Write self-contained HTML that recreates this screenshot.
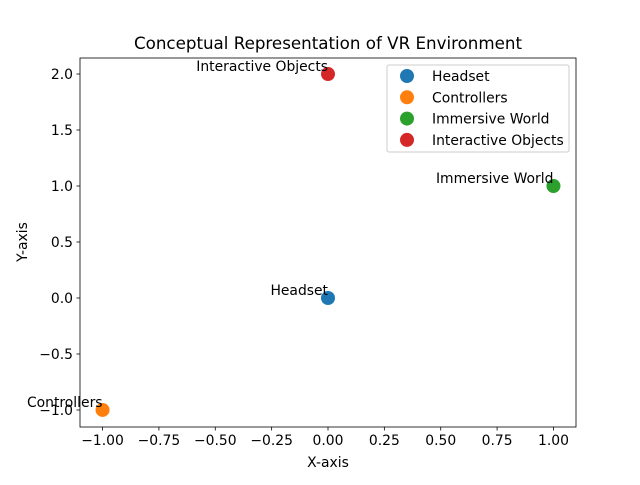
<!DOCTYPE html>
<html><head><meta charset="utf-8"><style>
body{margin:0;background:#fff;}
text{font-family:"DejaVu Sans","Liberation Sans",sans-serif;}
</style></head><body>
<svg id="chart" width="640" height="480" xmlns="http://www.w3.org/2000/svg">
<rect width="640" height="480" fill="#fff"/>
<text x="328" y="49" font-size="16.7" text-anchor="middle">Conceptual Representation of VR Environment</text>
<g id="axes"></g>
<g id="marks"></g>
<rect x="80" y="58" width="496" height="369" fill="none" stroke="#000" stroke-width="0.8"/>
<text x="328" y="467" font-size="13.9" text-anchor="middle">X-axis</text>
<text x="27" y="242" font-size="13.9" text-anchor="middle" transform="rotate(-90 27 242)">Y-axis</text>
<g id="legend"></g>
</svg>
<script>
const names=["Headset","Controllers","Immersive World","Interactive Objects"];
const xs=[0,-1,1,0];
const ys=[0,-1,1,2];
const colors=["#1f77b4","#ff7f0e","#2ca02c","#d62728"];
const xTicks=[-1,-0.75,-0.5,-0.25,0,0.25,0.5,0.75,1];
const yTicks=[-1,-0.5,0,0.5,1,1.5,2];
const xTickLabels=["−1.00","−0.75","−0.50","−0.25","0.00","0.25","0.50","0.75","1.00"];
const yTickLabels=["−1.0","−0.5","0.0","0.5","1.0","1.5","2.0"];
const L=80,R=576,T=58,B=427,x0=-1.1,x1=1.1,y0=-1.152,y1=2.143;
const sx=v=>L+(v-x0)/(x1-x0)*(R-L);
const sy=v=>B-(v-y0)/(y1-y0)*(B-T);
const NS="http://www.w3.org/2000/svg";
function mk(tag,at,parent,txt){const e=document.createElementNS(NS,tag);for(const k in at)e.setAttribute(k,at[k]);if(txt!==undefined)e.textContent=txt;parent.appendChild(e);return e;}
const ax=document.getElementById('axes');
xTicks.forEach((v,i)=>{
 const t=mk('line',{x1:sx(v),x2:sx(v),y1:B,y2:B+3.5,stroke:'#000','stroke-width':0.8},ax);
 
 
 const l=mk('text',{x:sx(v),y:B+18,'font-size':13.9,'text-anchor':'middle'},ax,xTickLabels[i]);
 
 
});
yTicks.forEach((v,i)=>{
 const t=mk('line',{x1:L-3.5,x2:L,y1:sy(v),y2:sy(v),stroke:'#000','stroke-width':0.8},ax);
 
 
 const l=mk('text',{x:L-7,y:sy(v)+5,'font-size':13.9,'text-anchor':'end'},ax,yTickLabels[i]);
 
 
});
const mg=document.getElementById('marks');
names.forEach((n,i)=>{
 const c=mk('circle',{cx:sx(xs[i]),cy:sy(ys[i]),r:7,fill:colors[i]},mg);
 
 
 const t=mk('text',{x:sx(xs[i]),y:sy(ys[i])-3,'font-size':13.9,'text-anchor':'end'},mg,n);
 
 
});
const lg=document.getElementById('legend');
const box=mk('rect',{x:387,y:65,width:182,height:87,rx:2,fill:'#fff','fill-opacity':0.8,stroke:'#ccc'},lg);


names.forEach((n,i)=>{
 const y=76+i*21.3;
 const c=mk('circle',{cx:407,cy:y,r:7,fill:colors[i]},lg);
 
 
 const t=mk('text',{x:432,y:y+5,'font-size':13.9},lg,n);
 
 
});
</script>
</body></html>
